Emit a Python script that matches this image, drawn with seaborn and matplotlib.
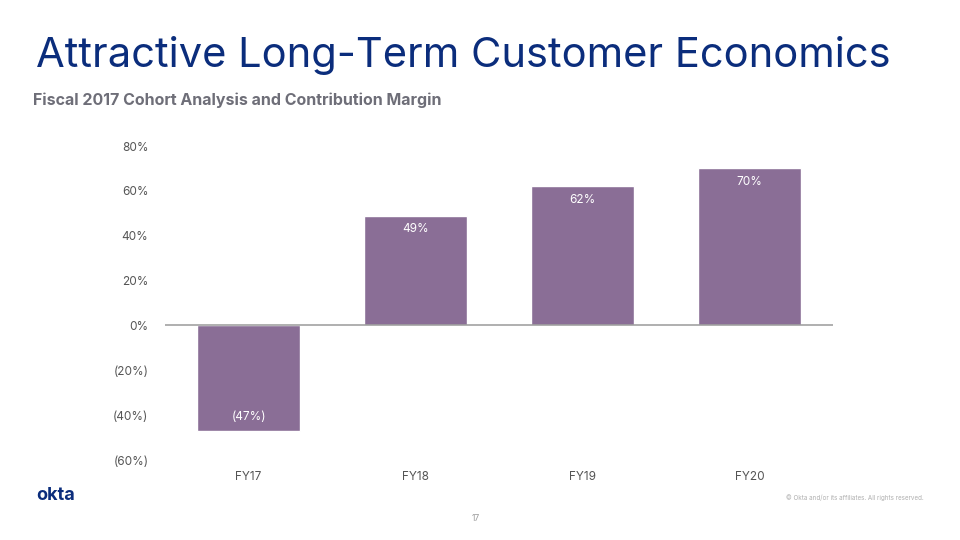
import numpy as np
import pandas as pd
import matplotlib
matplotlib.use("Agg")
import matplotlib.pyplot as plt
import seaborn as sns

# Chart data
years = ["FY17", "FY18", "FY19", "FY20"]
margin = [-47, 49, 62, 70]
bar_labels = ["(47%)", "49%", "62%", "70%"]
y_ticks = [-60, -40, -20, 0, 20, 40, 60, 80]
y_tick_labels = ["(60%)", "(40%)", "(20%)", "0%", "20%", "40%", "60%", "80%"]

df = pd.DataFrame({"year": years, "margin": margin})

sns.set_style("white")
plt.rcParams["font.family"] = ["Inter", "DejaVu Sans"]

fig = plt.figure(figsize=(9.6, 5.4), dpi=100)
ax = fig.add_axes([0.1719, 0.1481, 0.6958, 0.5815])

sns.barplot(data=df, x="year", y="margin", color="#8A6E96", saturation=1,
            width=0.62, ax=ax)

ax.set_xlim(-0.5, 3.5)
ax.set_ylim(-60, 80)
ax.set_yticks(y_ticks)
ax.set_yticklabels(y_tick_labels)
ax.set_xlabel("")
ax.set_ylabel("")
for s in ax.spines.values():
    s.set_visible(False)
ax.axhline(0, color="#9a9a9a", lw=1.1, zorder=3)
ax.tick_params(axis="both", length=0, colors="#555555", labelsize=8.5)
ax.tick_params(axis="y", pad=12)
ax.tick_params(axis="x", pad=8)

# value labels inside bars
for i, (v, lab) in enumerate(zip(margin, bar_labels)):
    y = v - 6 if v > 0 else v + 6
    ax.text(i, y, lab, ha="center", va="center", color="white", fontsize=8.5)

# slide texts
fig.text(0.038, 0.897, "Attractive Long-Term Customer Economics", color="#0B2D7C",
         fontsize=30, ha="left", va="center")
fig.text(0.034, 0.815, "Fiscal 2017 Cohort Analysis and Contribution Margin",
         color="#6E6E78", fontsize=11.5, fontweight="bold", ha="left", va="center")
fig.text(0.038, 0.083, "okta", color="#0B2D7C", fontsize=13, fontweight="bold",
         ha="left", va="center")
fig.text(0.89, 0.078, "\u00a9 Okta and/or its affiliates. All rights reserved.",
         color="#b0b0b0", fontsize=4.5, ha="center", va="center")
fig.text(0.495, 0.039, "17", color="#999999", fontsize=6, ha="center", va="center")

fig.savefig("out.png", dpi=100)
